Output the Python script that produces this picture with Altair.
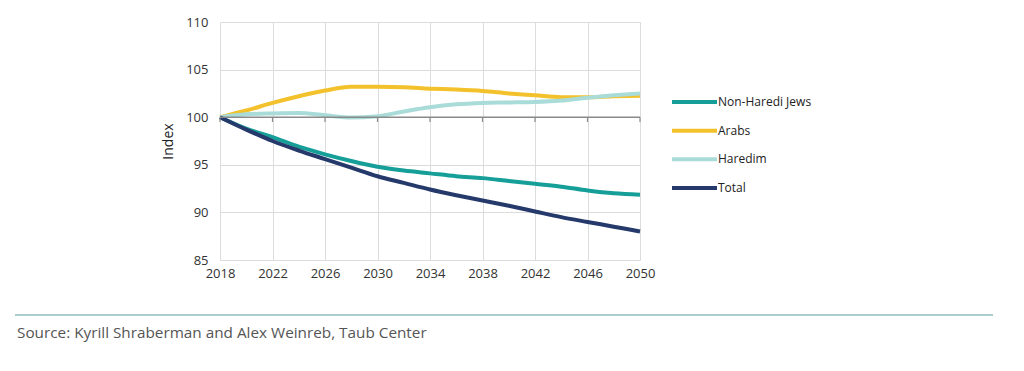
import altair as alt
import pandas as pd

years = [2018, 2020, 2022, 2024, 2026, 2028, 2030, 2032, 2034, 2036, 2038, 2040, 2042, 2044, 2046, 2048, 2050]
non_haredi = [100, 98.8, 97.9, 96.9, 96.1, 95.4, 94.8, 94.4, 94.1, 93.8, 93.6, 93.3, 93.0, 92.7, 92.3, 92.0, 91.85]
arabs = [100, 100.7, 101.5, 102.2, 102.8, 103.2, 103.2, 103.15, 103.0, 102.9, 102.75, 102.5, 102.3, 102.1, 102.1, 102.2, 102.25]
haredim = [100, 100.3, 100.4, 100.45, 100.2, 99.97, 100.1, 100.6, 101.05, 101.35, 101.5, 101.55, 101.6, 101.75, 102.05, 102.3, 102.5]
total = [100, 98.7, 97.5, 96.5, 95.6, 94.7, 93.8, 93.1, 92.4, 91.8, 91.25, 90.7, 90.1, 89.5, 89.0, 88.5, 88.0]

series = ["Non-Haredi Jews", "Arabs", "Haredim", "Total"]
colors = ["#159f98", "#f2c12b", "#a9dcd8", "#253a6b"]
x_ticks = [2018, 2022, 2026, 2030, 2034, 2038, 2042, 2046, 2050]
y_ticks = [85, 90, 95, 100, 105, 110]
source = "Source: Kyrill Shraberman and Alex Weinreb, Taub Center"

rows = []
for name, vals in zip(series, [non_haredi, arabs, haredim, total]):
    for yr, v in zip(years, vals):
        rows.append({"year": yr, "value": v, "series": name})
df = pd.DataFrame(rows)

FONT = "Open Sans"
x_scale = alt.Scale(domain=[2018, 2050], nice=False, zero=False)
y_scale = alt.Scale(domain=[85, 110], nice=False, zero=False)
color_scale = alt.Scale(domain=series, range=colors)

x_axis = alt.Axis(values=x_ticks, format="d", title=None, grid=True, gridColor="#dcdcdc",
                  ticks=False, domain=False, labelFont=FONT, labelFontSize=13, labelFlush=False,
                  labelColor="#333", labelPadding=7)

lines = alt.Chart(df).mark_line(strokeWidth=4, interpolate="monotone").encode(
    x=alt.X("year:Q", scale=x_scale, axis=x_axis),
    y=alt.Y("value:Q", scale=y_scale,
            axis=alt.Axis(values=y_ticks, title="Index", grid=True, gridColor="#dcdcdc", ticks=False,
                          domain=False, labelFont=FONT, labelFontSize=13, labelColor="#333",
                          labelPadding=12, titleFont=FONT, titleFontSize=14, titleFontWeight="normal",
                          titleColor="#222", titlePadding=10)),
    color=alt.Color("series:N", scale=color_scale, legend=None),
    order=alt.Order("order:Q"),
).transform_calculate(order="indexof(%s, datum.series)" % str(series))

zero_df = pd.DataFrame({"year": x_ticks, "value": [100] * len(x_ticks)})
base_line = alt.Chart(pd.DataFrame({"value": [100]})).mark_rule(color="#8a8a8a", strokeWidth=1.5).encode(
    y=alt.Y("value:Q", scale=y_scale, axis=None)
)
ticks = alt.Chart(zero_df).mark_rule(color="#8a8a8a", strokeWidth=1.2).encode(
    x=alt.X("year:Q", scale=x_scale, axis=x_axis),
    y=alt.Y("value:Q", scale=y_scale, axis=None),
    y2=alt.Y2("y2:Q"),
).transform_calculate(y2="datum.value - 0.5")

leg_df = pd.DataFrame({"series": series})
leg_y = alt.Y("series:N", scale=alt.Scale(domain=series, range=[80, 166], type="point", padding=0), axis=None)
leg_lines = alt.Chart(leg_df).mark_rule(strokeWidth=4).encode(
    x=alt.value(452), x2=alt.value(497), y=leg_y,
    color=alt.Color("series:N", scale=color_scale, legend=None),
)
leg_text = alt.Chart(leg_df).mark_text(align="left", baseline="middle", font=FONT, fontSize=12, color="#222").encode(
    x=alt.value(498), y=leg_y, text="series:N"
)

foot_rule = alt.Chart(pd.DataFrame({"a": [0]})).mark_rule(color="#8cc0bd", strokeWidth=1.5).encode(
    x=alt.value(-205), x2=alt.value(773), y=alt.value(293)
)
foot_text = alt.Chart(pd.DataFrame({"t": [source]})).mark_text(
    align="left", baseline="middle", font=FONT, fontSize=15.3, color="#555"
).encode(x=alt.value(-203), y=alt.value(311), text="t:N")

chart = alt.layer(lines, base_line, ticks, leg_lines, leg_text, foot_rule, foot_text).resolve_scale(
    y="independent", color="shared"
).properties(
    width=420, height=238,
    autosize=alt.AutoSizeParams(type="none"),
    padding={"left": 212, "top": 14, "right": 370, "bottom": 95},
).configure_view(stroke=None)

chart.save("out.html", embed_options={"renderer": "svg", "actions": False})
